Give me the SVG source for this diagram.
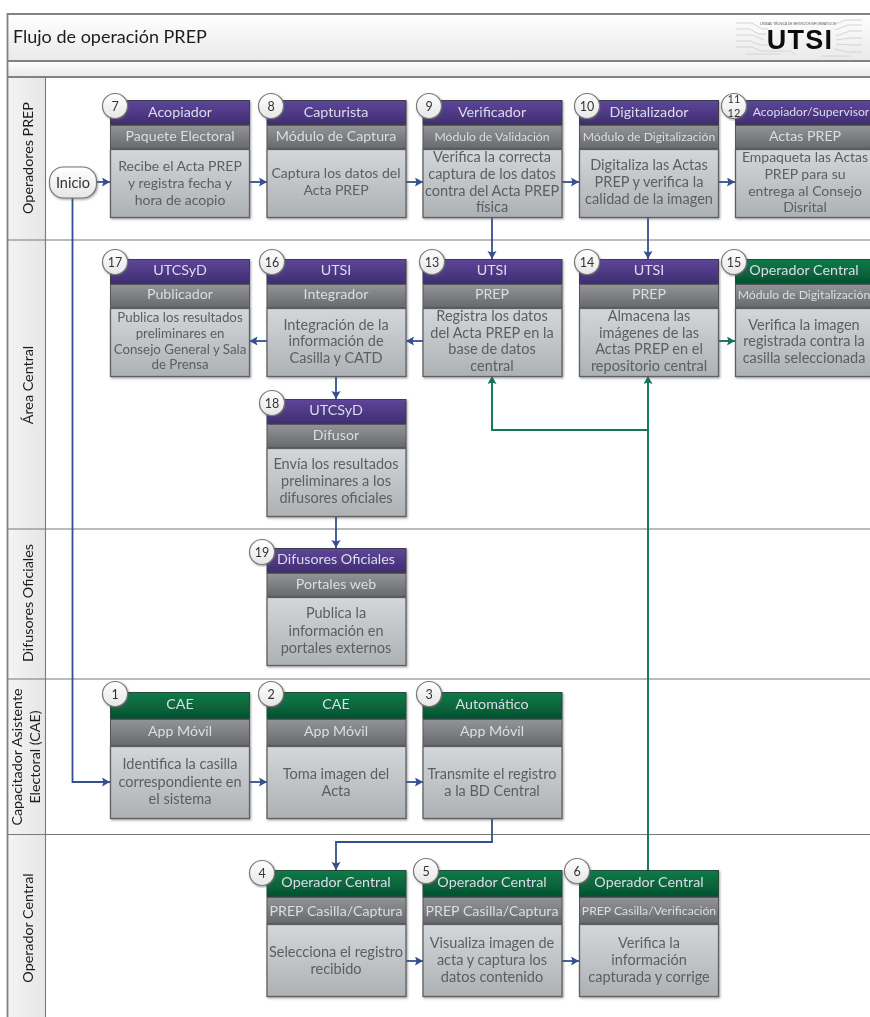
<svg xmlns="http://www.w3.org/2000/svg" width="870" height="1017" viewBox="0 0 870 1017">
<style>
text{font-family:"Lato","Open Sans","Liberation Sans",sans-serif}
.h{font-size:14.300px;fill:#dcdcea;text-anchor:middle}
.s{font-size:14.200px;fill:#dcdde0;text-anchor:middle}
.t{font-size:12.200px;fill:#dcdde0;text-anchor:middle}
.b{font-size:14.500px;fill:#5b5e62;text-anchor:middle}
.c{font-size:14px;fill:#5b5e62;text-anchor:middle}
.d{font-size:13.300px;fill:#5b5e62;text-anchor:middle}
.n{font-size:12.500px;fill:#333;text-anchor:middle}
.l{font-size:14.300px;fill:#1d1d1d;text-anchor:middle}
.pu{fill:url(#gp);stroke:#3d3d4a;stroke-width:1}
.gr{fill:url(#gg);stroke:#2b4a3c;stroke-width:1}
.su{fill:url(#gs);stroke:#55575a;stroke-width:1}
.bo{fill:url(#gb);stroke:#5e6063;stroke-width:1.3}
.ci{fill:url(#gc);stroke:#77797c;stroke-width:1.2}
.bl{fill:none;stroke:#34508f;stroke-width:1.8}
.ge{fill:none;stroke:#12745a;stroke-width:1.9}
.lane{stroke:#77797c;stroke-width:1.1;fill:none}
.frame{stroke:#808285;stroke-width:1.8;fill:none}
.circ{fill:none;stroke:#d2d4d6;stroke-width:1}
</style>
<defs>
<linearGradient id="gp" x1="0" y1="0" x2="0" y2="1"><stop offset="0" stop-color="#5f4699"/><stop offset="1" stop-color="#3f2d72"/></linearGradient>
<linearGradient id="gg" x1="0" y1="0" x2="0" y2="1"><stop offset="0" stop-color="#0b7b49"/><stop offset="1" stop-color="#05522f"/></linearGradient>
<linearGradient id="gs" x1="0" y1="0" x2="0" y2="1"><stop offset="0" stop-color="#929497"/><stop offset="1" stop-color="#68696c"/></linearGradient>
<linearGradient id="gb" x1="0" y1="0" x2="0" y2="1"><stop offset="0" stop-color="#d4d7da"/><stop offset="1" stop-color="#aeb1b4"/></linearGradient>
<linearGradient id="gc" x1="0" y1="0" x2="0" y2="1"><stop offset="0" stop-color="#ffffff"/><stop offset="1" stop-color="#e6e6e6"/></linearGradient>
<linearGradient id="gt" x1="0" y1="0" x2="0" y2="1"><stop offset="0" stop-color="#ffffff"/><stop offset="1" stop-color="#e9e9e9"/></linearGradient>
<linearGradient id="gl" x1="0" y1="0" x2="1" y2="0"><stop offset="0" stop-color="#f4f4f4"/><stop offset="1" stop-color="#e6e6e6"/></linearGradient>
<filter id="sh" x="-10%" y="-10%" width="120%" height="120%"><feDropShadow dx="1" dy="1.2" stdDeviation="1" flood-color="#555" flood-opacity=".55"/></filter>
<filter id="soft" filterUnits="userSpaceOnUse" x="0" y="0" width="870" height="1017"><feGaussianBlur stdDeviation="0.35"/></filter>
<marker id="ab" markerUnits="userSpaceOnUse" markerWidth="9" markerHeight="10" refX="8" refY="4.5" orient="auto"><path d="M0 0L8 4.5L0 9L1.5 4.5Z" fill="#34508f"/></marker>
<marker id="ag" markerUnits="userSpaceOnUse" markerWidth="9" markerHeight="10" refX="8" refY="4.5" orient="auto"><path d="M0 0L8 4.5L0 9L1.5 4.5Z" fill="#12745a"/></marker>
</defs>
<rect width="870" height="1017" fill="#fff"/>
<g id="diagram" filter="url(#soft)">
<g id="swimlanes">
<rect x="7" y="14" width="863" height="47" fill="url(#gt)"/>
<rect x="7" y="61" width="863" height="16" fill="url(#gt)"/>
<rect x="7" y="77" width="38.500" height="940" fill="url(#gl)"/>
<path class="frame" d="M870 14H7.500V1017M7 61H870M7 77H870"/>
<path class="lane" d="M45.500 77V1017M7 240H870M7 529H870M7 679H870M7 834.500H870"/>
<text x="13" y="43" style="font-size:18px;fill:#1d1d1d">Flujo de operación PREP</text>
<text class="l" transform="translate(33 158) rotate(-90)">Operadores PREP</text>
<text class="l" transform="translate(33 385) rotate(-90)">Área Central</text>
<text class="l" transform="translate(33 603) rotate(-90)">Difusores Oficiales</text>
<text class="l" transform="translate(22 757) rotate(-90)">Capacitador Asistente</text>
<text class="l" transform="translate(40 757) rotate(-90)">Electoral (CAE)</text>
<text class="l" transform="translate(33 928) rotate(-90)">Operador Central</text>
</g>
<g id="logo">
<path class="circ" d="M736 23H752L762 29H768M736 29H750L758 34H766M736 35H752L764 40M736 41H750L760 45H768M736 47H752L762 51H790L796 55M746 54H780M835 24L846 20H862M835 30L848 25H862M836 36L850 31H862M836 40L850 38H862M836 44L850 45H862M834 49L848 52H862M822 56H850"/>
<text x="800" y="49" style="font-family:'Liberation Sans',sans-serif;font-weight:700;font-size:27px;fill:#0a0a0a;text-anchor:middle;letter-spacing:1.200px">UTSI</text>
<text x="798" y="24.500" style="font-family:'Liberation Sans',sans-serif;font-size:3.200px;fill:#555;text-anchor:middle">UNIDAD TÉCNICA DE SERVICIOS INFORMÁTICOS</text>
</g>
<g id="connectors">
<path class="bl" marker-end="url(#ab)" d="M97 182H110"/>
<path class="bl" marker-end="url(#ab)" d="M249 182H267"/>
<path class="bl" marker-end="url(#ab)" d="M406 182H423"/>
<path class="bl" marker-end="url(#ab)" d="M562 182H579"/>
<path class="bl" marker-end="url(#ab)" d="M719 182H735"/>
<path class="bl" marker-end="url(#ab)" d="M492 218V259"/>
<path class="bl" marker-end="url(#ab)" d="M648 218V259"/>
<path class="ge" marker-end="url(#ag)" d="M719 341H735"/>
<path class="bl" marker-end="url(#ab)" d="M423 341H406"/>
<path class="bl" marker-end="url(#ab)" d="M267 341H249.500"/>
<path class="bl" marker-end="url(#ab)" d="M336 376V399"/>
<path class="bl" marker-end="url(#ab)" d="M336 516V548"/>
<path class="bl" marker-end="url(#ab)" d="M72.500 198V782H110"/>
<path class="bl" marker-end="url(#ab)" d="M249 782H267"/>
<path class="bl" marker-end="url(#ab)" d="M406 782H423"/>
<path class="bl" marker-end="url(#ab)" d="M492 819V842H336V870"/>
<path class="bl" marker-end="url(#ab)" d="M406 961H423"/>
<path class="bl" marker-end="url(#ab)" d="M562 961H579"/>
<path class="ge" marker-end="url(#ag)" d="M648 870V376"/>
<path class="ge" marker-end="url(#ag)" d="M648 430H492V376"/>
</g>
<g id="inicio"><rect x="49.500" y="167" width="47" height="31" rx="14" ry="14" class="ci" filter="url(#sh)"/><text x="73" y="187.500" style="font-size:14.500px;fill:#333;text-anchor:middle">Inicio</text></g>
<g id="n7"><g filter="url(#sh)"><rect class="pu" x="110.500" y="100.500" width="139" height="24"/><rect class="su" x="110.500" y="125.500" width="139" height="23"/><rect class="bo" x="110.500" y="149.500" width="139" height="68"/></g><circle class="ci" cx="115" cy="106" r="12.500" filter="url(#sh)"/><text class="n" x="115" y="110.500">7</text><text class="h" x="180" y="117">Acopiador</text><text class="s" x="180" y="141">Paquete Electoral</text><text class="c" x="180" y="171">Recibe el Acta PREP</text><text class="c" x="180" y="188">y registra fecha y</text><text class="c" x="180" y="205">hora de acopio</text></g>
<g id="n8"><g filter="url(#sh)"><rect class="pu" x="267" y="100.500" width="139" height="24"/><rect class="su" x="267" y="125.500" width="139" height="23"/><rect class="bo" x="267" y="149.500" width="139" height="68"/></g><circle class="ci" cx="271" cy="106" r="12.500" filter="url(#sh)"/><text class="n" x="271" y="110.500">8</text><text class="h" x="336" y="117">Capturista</text><text class="s" x="336" y="141">Módulo de Captura</text><text class="c" x="336" y="178">Captura los datos del</text><text class="c" x="336" y="195">Acta PREP</text></g>
<g id="n9"><g filter="url(#sh)"><rect class="pu" x="423" y="100.500" width="139" height="24"/><rect class="su" x="423" y="125.500" width="139" height="23"/><rect class="bo" x="423" y="149.500" width="139" height="68"/></g><circle class="ci" cx="429" cy="106" r="12.500" filter="url(#sh)"/><text class="n" x="429" y="110.500">9</text><text class="h" x="492" y="117">Verificador</text><text class="t" x="492" y="140.500">Módulo de Validación</text><text class="b" x="492" y="162">Verifica la correcta</text><text class="b" x="492" y="179">captura de los datos</text><text class="b" x="492" y="196">contra del Acta PREP</text><text class="b" x="492" y="212">física</text></g>
<g id="n10"><g filter="url(#sh)"><rect class="pu" x="579.500" y="100.500" width="139" height="24"/><rect class="su" x="579.500" y="125.500" width="139" height="23"/><rect class="bo" x="579.500" y="149.500" width="139" height="68"/></g><circle class="ci" cx="587" cy="106" r="12.500" filter="url(#sh)"/><text class="n" x="587" y="110.500">10</text><text class="h" x="649" y="117">Digitalizador</text><text class="t" x="649" y="140.500">Módulo de Digitalización</text><text class="b" x="649" y="170">Digitaliza las Actas</text><text class="b" x="649" y="187">PREP y verifica la</text><text class="b" x="649" y="204">calidad de la imagen</text></g>
<g id="n11"><g filter="url(#sh)"><rect class="pu" x="735.500" y="100.500" width="140" height="24"/><rect class="su" x="735.500" y="125.500" width="140" height="23"/><rect class="bo" x="735.500" y="149.500" width="140" height="68"/></g><circle class="ci" cx="734" cy="106" r="12.500" filter="url(#sh)"/><text class="n" style="font-size:11px" x="734" y="103">11</text><text class="n" style="font-size:11px" x="734" y="117">12</text><text class="h" style="font-size:12.200px" x="811" y="116">Acopiador/Supervisor</text><text class="s" x="805" y="141">Actas PREP</text><text class="c" x="805" y="162">Empaqueta las Actas</text><text class="c" x="805" y="179">PREP para su</text><text class="c" x="805" y="196">entrega al Consejo</text><text class="c" x="805" y="212">Disrital</text></g>
<g id="n17"><g filter="url(#sh)"><rect class="pu" x="110.500" y="259.500" width="139" height="24"/><rect class="su" x="110.500" y="284.500" width="139" height="23"/><rect class="bo" x="110.500" y="308.500" width="139" height="68"/></g><circle class="ci" cx="115" cy="262" r="12.500" filter="url(#sh)"/><text class="n" x="115" y="266.500">17</text><text class="h" x="180" y="275">UTCSyD</text><text class="s" x="180" y="299">Publicador</text><text class="d" x="180" y="322">Publica los resultados</text><text class="d" x="180" y="338">preliminares en</text><text class="d" x="180" y="354">Consejo General y Sala</text><text class="d" x="180" y="369">de Prensa</text></g>
<g id="n16"><g filter="url(#sh)"><rect class="pu" x="267" y="259.500" width="139" height="24"/><rect class="su" x="267" y="284.500" width="139" height="23"/><rect class="bo" x="267" y="308.500" width="139" height="68"/></g><circle class="ci" cx="272" cy="262" r="12.500" filter="url(#sh)"/><text class="n" x="272" y="266.500">16</text><text class="h" x="336" y="275">UTSI</text><text class="s" x="336" y="299">Integrador</text><text class="b" x="336" y="330">Integración de la</text><text class="b" x="336" y="346">información de</text><text class="b" x="336" y="363">Casilla y CATD</text></g>
<g id="n13"><g filter="url(#sh)"><rect class="pu" x="423" y="259.500" width="139" height="24"/><rect class="su" x="423" y="284.500" width="139" height="23"/><rect class="bo" x="423" y="308.500" width="139" height="68"/></g><circle class="ci" cx="432" cy="262" r="12.500" filter="url(#sh)"/><text class="n" x="432" y="266.500">13</text><text class="h" x="492" y="275">UTSI</text><text class="s" x="492" y="299">PREP</text><text class="b" x="492" y="321">Registra los datos</text><text class="b" x="492" y="338">del Acta PREP en la</text><text class="b" x="492" y="354">base de datos</text><text class="b" x="492" y="371">central</text></g>
<g id="n14"><g filter="url(#sh)"><rect class="pu" x="579.500" y="259.500" width="139" height="24"/><rect class="su" x="579.500" y="284.500" width="139" height="23"/><rect class="bo" x="579.500" y="308.500" width="139" height="68"/></g><circle class="ci" cx="587" cy="262" r="12.500" filter="url(#sh)"/><text class="n" x="587" y="266.500">14</text><text class="h" x="649" y="275">UTSI</text><text class="s" x="649" y="299">PREP</text><text class="b" x="649" y="321">Almacena las</text><text class="b" x="649" y="338">imágenes de las</text><text class="b" x="649" y="354">Actas PREP en el</text><text class="b" x="649" y="371">repositorio central</text></g>
<g id="n15"><g filter="url(#sh)"><rect class="gr" x="735.500" y="259.500" width="140" height="24"/><rect class="su" x="735.500" y="284.500" width="140" height="23"/><rect class="bo" x="735.500" y="308.500" width="140" height="68"/></g><circle class="ci" cx="734" cy="262" r="12.500" filter="url(#sh)"/><text class="n" x="734" y="266.500">15</text><text class="h" x="804" y="275">Operador Central</text><text class="t" x="804" y="299">Módulo de Digitalización</text><text class="b" x="804" y="330">Verifica la imagen</text><text class="b" x="804" y="346">registrada contra la</text><text class="b" x="804" y="363">casilla seleccionada</text></g>
<g id="n18"><g filter="url(#sh)"><rect class="pu" x="267" y="399.500" width="139" height="24"/><rect class="su" x="267" y="424.500" width="139" height="23"/><rect class="bo" x="267" y="448.500" width="139" height="68"/></g><circle class="ci" cx="272" cy="403" r="12.500" filter="url(#sh)"/><text class="n" x="272" y="407.500">18</text><text class="h" x="336" y="415">UTCSyD</text><text class="s" x="336" y="440">Difusor</text><text class="b" x="336" y="469">Envía los resultados</text><text class="b" x="336" y="486">preliminares a los</text><text class="b" x="336" y="503">difusores oficiales</text></g>
<g id="n19"><g filter="url(#sh)"><rect class="pu" x="267" y="548.500" width="139" height="24"/><rect class="su" x="267" y="573.500" width="139" height="23"/><rect class="bo" x="267" y="597.500" width="139" height="68"/></g><circle class="ci" cx="262" cy="552" r="12.500" filter="url(#sh)"/><text class="n" x="262" y="556.500">19</text><text class="h" x="336" y="564">Difusores Oficiales</text><text class="s" x="336" y="589">Portales web</text><text class="b" x="336" y="618">Publica la</text><text class="b" x="336" y="636">información en</text><text class="b" x="336" y="653">portales externos</text></g>
<g id="n1"><g filter="url(#sh)"><rect class="gr" x="110.500" y="692.500" width="139" height="26"/><rect class="su" x="110.500" y="719.500" width="139" height="26"/><rect class="bo" x="110.500" y="746.500" width="139" height="72"/></g><circle class="ci" cx="115" cy="694" r="12.500" filter="url(#sh)"/><text class="n" x="115" y="698.500">1</text><text class="h" x="180" y="709">CAE</text><text class="s" x="180" y="736">App Móvil</text><text class="b" x="180" y="769">Identifica la casilla</text><text class="b" x="180" y="787">correspondiente en</text><text class="b" x="180" y="804">el sistema</text></g>
<g id="n2"><g filter="url(#sh)"><rect class="gr" x="267" y="692.500" width="139" height="26"/><rect class="su" x="267" y="719.500" width="139" height="26"/><rect class="bo" x="267" y="746.500" width="139" height="72"/></g><circle class="ci" cx="271" cy="694" r="12.500" filter="url(#sh)"/><text class="n" x="271" y="698.500">2</text><text class="h" x="336" y="709">CAE</text><text class="s" x="336" y="736">App Móvil</text><text class="b" x="336" y="779">Toma imagen del</text><text class="b" x="336" y="796">Acta</text></g>
<g id="n3"><g filter="url(#sh)"><rect class="gr" x="423" y="692.500" width="139" height="26"/><rect class="su" x="423" y="719.500" width="139" height="26"/><rect class="bo" x="423" y="746.500" width="139" height="72"/></g><circle class="ci" cx="429" cy="694" r="12.500" filter="url(#sh)"/><text class="n" x="429" y="698.500">3</text><text class="h" x="492" y="709">Automático</text><text class="s" x="492" y="736">App Móvil</text><text class="b" x="492" y="779">Transmite el registro</text><text class="b" x="492" y="796">a la BD Central</text></g>
<g id="n4"><g filter="url(#sh)"><rect class="gr" x="267" y="870.500" width="139" height="26"/><rect class="su" x="267" y="897.500" width="139" height="26"/><rect class="bo" x="267" y="924.500" width="139" height="72"/></g><circle class="ci" cx="262" cy="873" r="12.500" filter="url(#sh)"/><text class="n" x="262" y="877.500">4</text><text class="h" x="336" y="887">Operador Central</text><text class="s" x="336" y="916">PREP Casilla/Captura</text><text class="b" x="336" y="957">Selecciona el registro</text><text class="b" x="336" y="974">recibido</text></g>
<g id="n5"><g filter="url(#sh)"><rect class="gr" x="423" y="870.500" width="139" height="26"/><rect class="su" x="423" y="897.500" width="139" height="26"/><rect class="bo" x="423" y="924.500" width="139" height="72"/></g><circle class="ci" cx="426" cy="871" r="12.500" filter="url(#sh)"/><text class="n" x="426" y="875.500">5</text><text class="h" x="492" y="887">Operador Central</text><text class="s" x="492" y="916">PREP Casilla/Captura</text><text class="b" x="492" y="948">Visualiza imagen de</text><text class="b" x="492" y="965">acta y captura los</text><text class="b" x="492" y="982">datos contenido</text></g>
<g id="n6"><g filter="url(#sh)"><rect class="gr" x="579.500" y="870.500" width="139" height="26"/><rect class="su" x="579.500" y="897.500" width="139" height="26"/><rect class="bo" x="579.500" y="924.500" width="139" height="72"/></g><circle class="ci" cx="577" cy="871" r="12.500" filter="url(#sh)"/><text class="n" x="577" y="875.500">6</text><text class="h" x="649" y="887">Operador Central</text><text class="t" x="649" y="915">PREP Casilla/Verificación</text><text class="b" x="649" y="948">Verifica la</text><text class="b" x="649" y="965">información</text><text class="b" x="649" y="982">capturada y corrige</text></g>
</g>
</svg>
